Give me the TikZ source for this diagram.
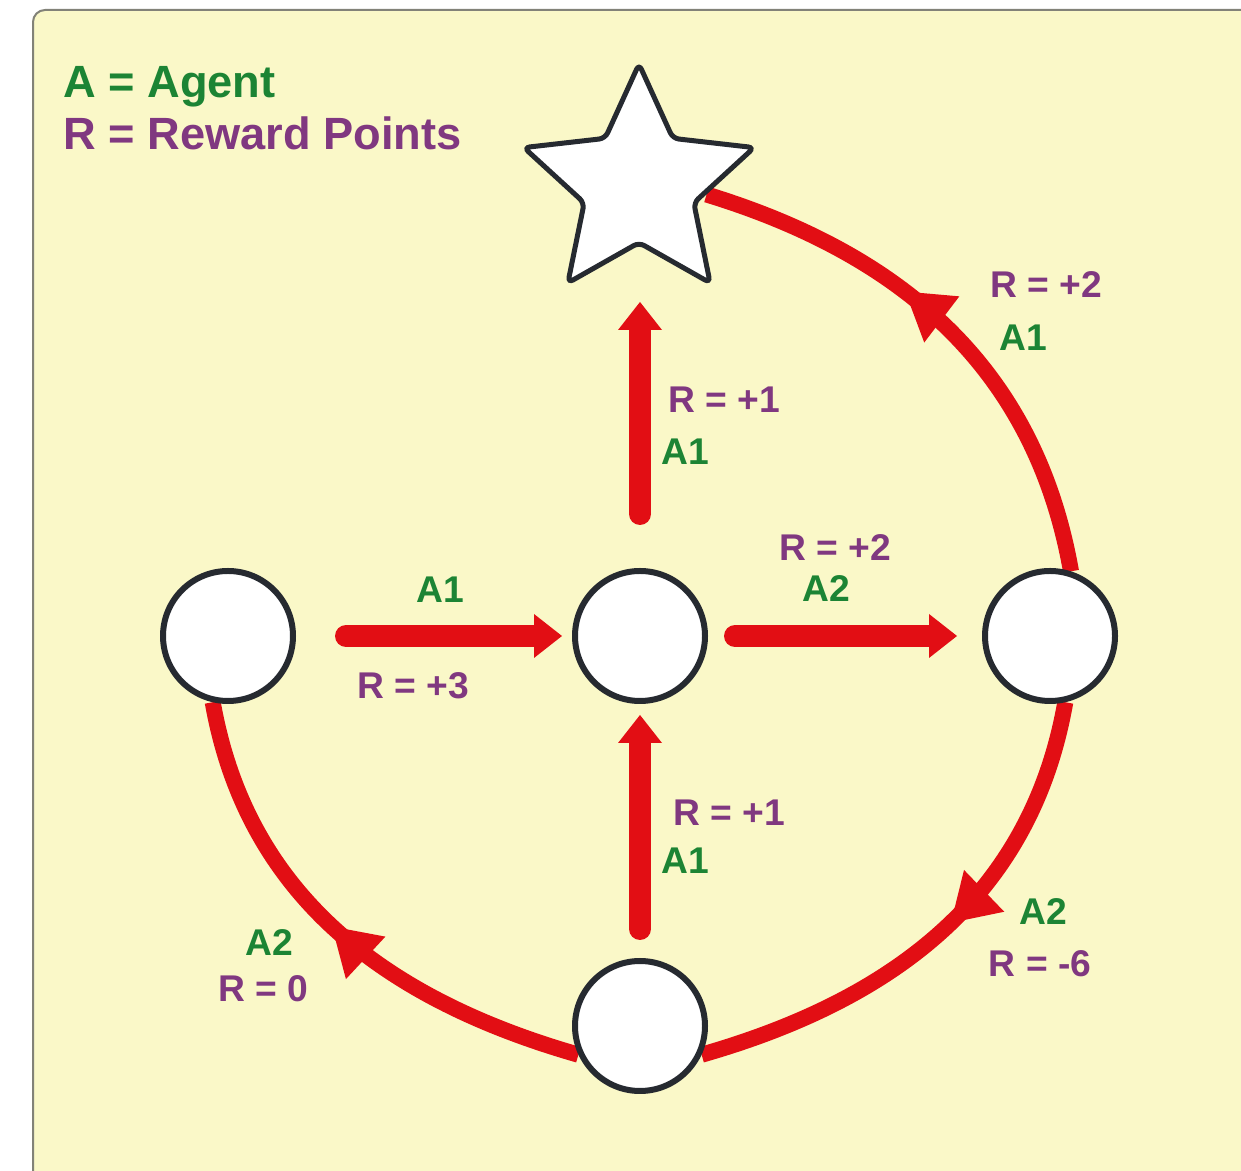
\documentclass[tikz,border=0pt]{standalone}
\usepackage{fontspec}
\setmainfont{Liberation Sans}
\usetikzlibrary{shapes.geometric,arrows.meta,decorations.markings,calc}
\definecolor{bgyellow}{RGB}{250,248,200}
\definecolor{agentgreen}{RGB}{28,132,52}
\definecolor{rewardpurple}{RGB}{128,56,128}
\definecolor{arrowred}{RGB}{226,14,20}
\definecolor{framegray}{RGB}{130,130,120}
\definecolor{ringdark}{RGB}{38,42,48}
\pgfdeclarelayer{back}
\pgfdeclarelayer{edges}
\pgfsetlayers{back,edges,main}
\tikzset{
  state/.style={circle, draw=ringdark, line width=3pt, fill=white, minimum size=65pt, inner sep=0pt},
  goal/.style={star, star points=5, star point ratio=2.1, draw=ringdark, line width=2.5pt, fill=white, minimum size=121pt, inner sep=0pt, rounded corners=3pt},
  straightarrow/.style={draw=arrowred, line width=11pt, line cap=round, -{Triangle[length=14pt,width=22pt,line width=0pt]}},
  curvearrow/.style={draw=arrowred, line width=8pt, postaction={decorate},
    decoration={markings, mark=at position #1 with {\arrow[arrowred]{Triangle[length=23pt,width=29pt,line width=0pt]}}}},
  curvearrow/.default=0.5,
  alabel/.style={text=agentgreen, font=\fontsize{18.6}{22}\selectfont\bfseries, inner sep=0pt},
  rlabel/.style={text=rewardpurple, font=\fontsize{18.6}{22}\selectfont\bfseries, inner sep=0pt},
  legendA/.style={text=agentgreen, font=\fontsize{22.6}{27}\selectfont\bfseries, inner sep=0pt, anchor=base west},
  legendR/.style={text=rewardpurple, font=\fontsize{22.6}{27}\selectfont\bfseries, inner sep=0pt, anchor=base west},
}
\begin{document}
\begin{tikzpicture}[x=0.5pt,y=0.5pt]
\useasboundingbox (0,0) rectangle (1241,1171);
\begin{pgfonlayer}{back}
  \clip (0,0) rectangle (1241,1171);
  \filldraw[fill=bgyellow, draw=framegray, line width=1pt, rounded corners=6pt] (33,-30) rectangle (1262,1161);
\end{pgfonlayer}

% states
\node[state] (L) at (228,535) {};
\node[state] (M) at (640,535) {};
\node[state] (R) at (1050,535) {};
\node[state] (B) at (640,145) {};
\node[goal]  (S) at (639,986) {};

% legend
\node[legendA] (legA) at (63,1073) {A = Agent};
\node[legendR] (legR) at (63,1021) {R = Reward Points};

% curved transitions
\begin{pgfonlayer}{edges}
  \draw[curvearrow=0.6] (R.72) to[out=100,in=-17] (S.-8);
  \draw[curvearrow=0.47] (R.-77) to[out=260,in=16] (B.-25);
  \draw[curvearrow=0.52] (B.205) to[out=164,in=280] (L.257);
\end{pgfonlayer}

% straight transitions
\draw[straightarrow] ($(L.east)+(50,0)$) -- ($(M.west)+(-10,0)$);
\draw[straightarrow] ($(M.east)+(27,0)$) -- ($(R.west)+(-25,0)$);
\draw[straightarrow] ($(M.north)+(0,54)$) -- ($(M.north)+(0,266)$);
\draw[straightarrow] ($(B.north)+(0,29)$) -- ($(M.south)+(0,-11)$);

% labels
\node[rlabel] (r1) at (724,771) {R = +1};
\node[alabel] (a1) at (685,719) {A1};
\node[rlabel] (r2) at (1046,886) {R = +2};
\node[alabel] (a2) at (1023,833) {A1};
\node[rlabel] (r3) at (835,623) {R = +2};
\node[alabel] (a3) at (826,582) {A2};
\node[alabel] (a4) at (440,581) {A1};
\node[rlabel] (r4) at (413,485) {R = +3};
\node[rlabel] (r5) at (729,358) {R = +1};
\node[alabel] (a5) at (685,310) {A1};
\node[alabel] (a6) at (1043,259) {A2};
\node[rlabel] (r6) at (1040,207) {R = -6};
\node[alabel] (a7) at (269,228) {A2};
\node[rlabel] (r7) at (263,182) {R = 0};
\end{tikzpicture}
\end{document}
